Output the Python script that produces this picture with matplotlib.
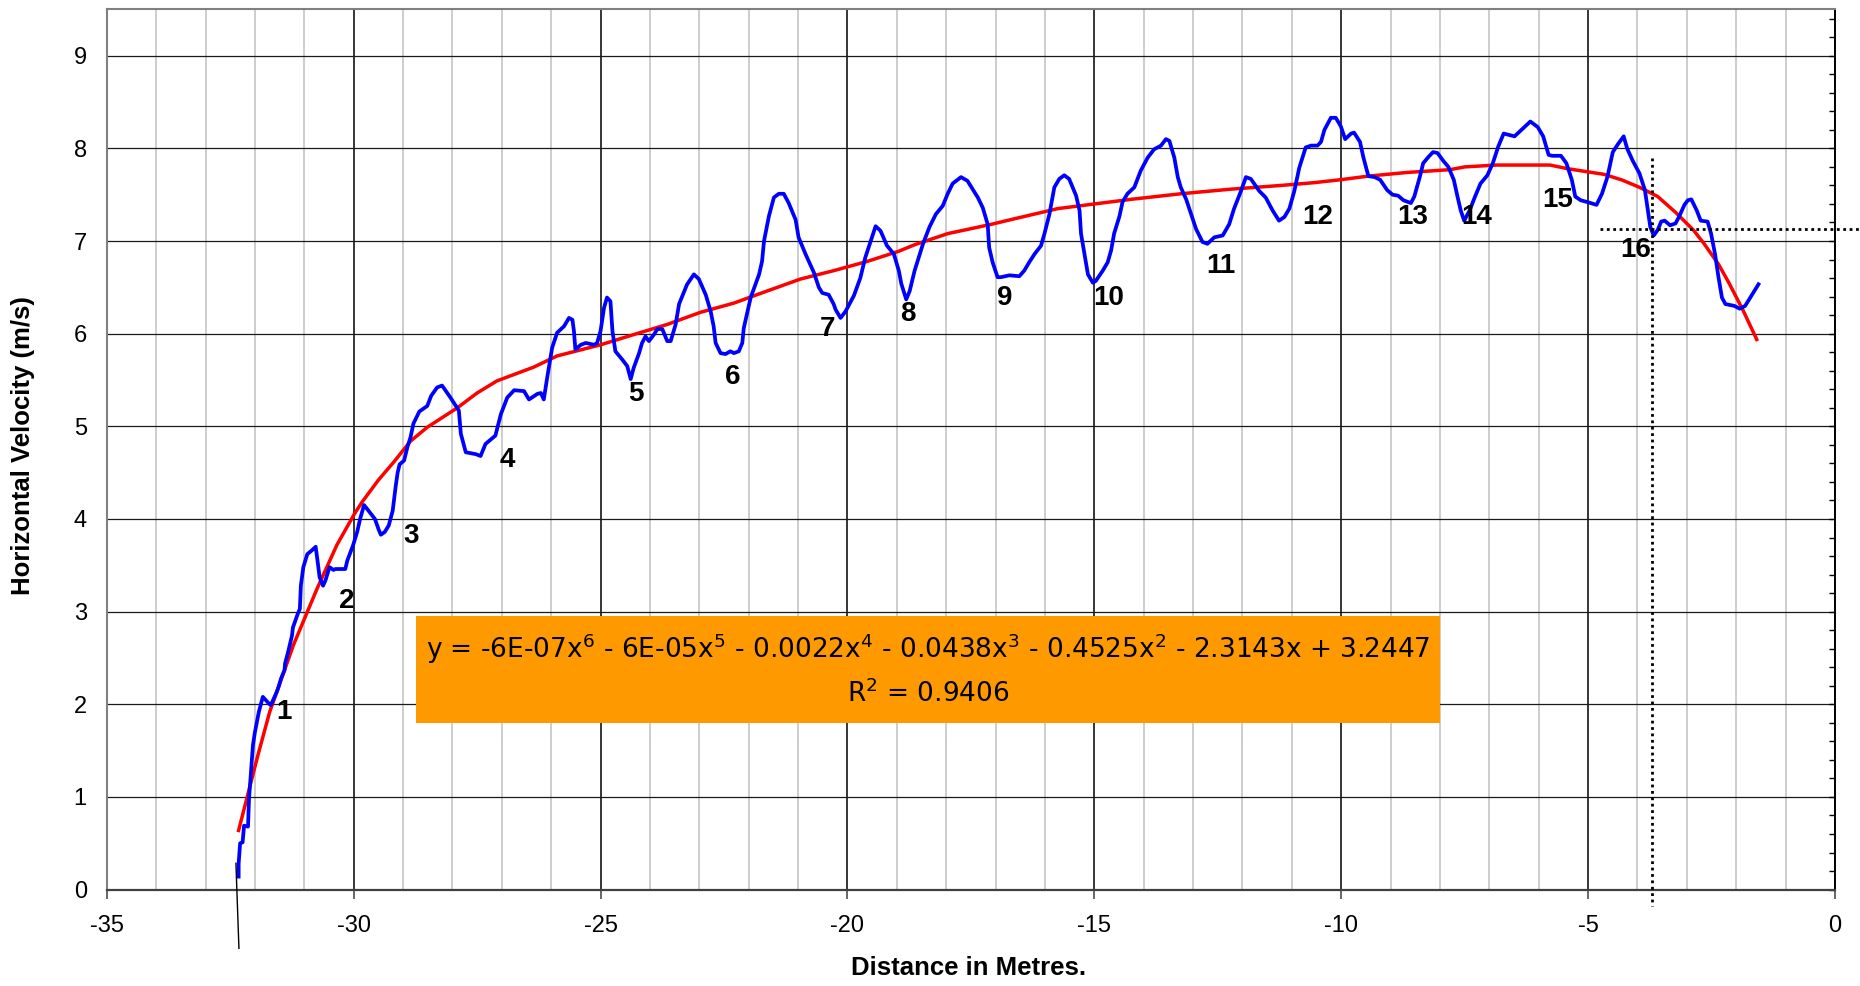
import matplotlib
matplotlib.use("Agg")
import matplotlib.pyplot as plt
from matplotlib.ticker import MultipleLocator
from matplotlib.patches import Rectangle

plt.rcParams['font.family'] = ['Liberation Sans', 'DejaVu Sans']
plt.rcParams['mathtext.default'] = 'regular'
plt.rcParams['axes.unicode_minus'] = False

# ---------------- data ----------------
blue_x = [-32.33, -32.33, -32.30, -32.25, -32.22, -32.14, -32.12, -32.08, -32.04, -32.00,
          -31.96, -31.92, -31.84, -31.72, -31.68, -31.56, -31.52, -31.47, -31.40, -31.39,
          -31.33, -31.25, -31.23, -31.13, -31.09, -31.07, -31.02, -30.94, -30.85, -30.77,
          -30.73, -30.69, -30.62, -30.57, -30.49, -30.41, -30.37, -30.17, -30.13, -30.01,
          -29.93, -29.87, -29.79, -29.73, -29.57, -29.49, -29.45, -29.37, -29.29, -29.21,
          -29.15, -29.11, -29.07, -28.98, -28.91, -28.85, -28.79, -28.67, -28.51, -28.43,
          -28.31, -28.21, -28.04, -27.87, -27.83, -27.73, -27.53, -27.43, -27.33, -27.13,
          -27.02, -26.89, -26.75, -26.55, -26.45, -26.28, -26.21, -26.15, -26.08, -25.98,
          -25.88, -25.74, -25.64, -25.57, -25.54, -25.51, -25.40, -25.30, -25.13, -25.07,
          -25.00, -24.93, -24.87, -24.80, -24.76, -24.70, -24.56, -24.46, -24.39, -24.33,
          -24.22, -24.16, -24.09, -24.02, -23.92, -23.85, -23.75, -23.65, -23.58, -23.48,
          -23.41, -23.25, -23.11, -23.01, -22.87, -22.77, -22.71, -22.67, -22.57, -22.47,
          -22.37, -22.30, -22.20, -22.13, -22.10, -21.96, -21.79, -21.73, -21.69, -21.59,
          -21.49, -21.39, -21.29, -21.19, -21.05, -20.99, -20.85, -20.68, -20.58, -20.51,
          -20.38, -20.28, -20.24, -20.14, -20.04, -19.87, -19.74, -19.64, -19.53, -19.43,
          -19.33, -19.20, -19.06, -18.96, -18.91, -18.81, -18.74, -18.64, -18.47, -18.34,
          -18.21, -18.07, -17.97, -17.87, -17.70, -17.57, -17.36, -17.26, -17.16, -17.13,
          -17.06, -16.96, -16.89, -16.72, -16.52, -16.42, -16.32, -16.21, -16.08, -16.01,
          -15.91, -15.81, -15.71, -15.61, -15.51, -15.37, -15.30, -15.27, -15.20, -15.13,
          -15.03, -14.97, -14.83, -14.73, -14.66, -14.60, -14.49, -14.43, -14.33, -14.19,
          -14.06, -13.92, -13.79, -13.65, -13.55, -13.48, -13.38, -13.31, -13.25, -13.14,
          -13.04, -12.94, -12.81, -12.71, -12.57, -12.40, -12.27, -12.17, -12.03, -11.93,
          -11.83, -11.66, -11.53, -11.39, -11.26, -11.15, -11.05, -10.95, -10.85, -10.72,
          -10.61, -10.48, -10.41, -10.34, -10.21, -10.11, -10.01, -9.92, -9.80, -9.74,
          -9.62, -9.55, -9.45, -9.32, -9.21, -9.07, -8.96, -8.85, -8.74, -8.59,
          -8.52, -8.41, -8.34, -8.23, -8.14, -8.05, -7.94, -7.83, -7.72, -7.65,
          -7.58, -7.51, -7.40, -7.29, -7.18, -7.04, -6.93, -6.82, -6.71, -6.49,
          -6.35, -6.17, -6.02, -5.91, -5.80, -5.73, -5.55, -5.44, -5.33, -5.26,
          -5.15, -5.01, -4.83, -4.72, -4.61, -4.50, -4.39, -4.28, -4.21, -4.10,
          -3.96, -3.85, -3.78, -3.74, -3.67, -3.59, -3.52, -3.45, -3.34, -3.23,
          -3.16, -3.05, -2.98, -2.91, -2.80, -2.72, -2.58, -2.51, -2.43, -2.36,
          -2.29, -2.22, -2.04, -1.93, -1.82, -1.67, -1.53]
blue_y = [0.12, 0.28, 0.50, 0.51, 0.69, 0.68, 0.98, 1.27, 1.56, 1.70,
          1.81, 1.92, 2.08, 2.01, 1.99, 2.13, 2.19, 2.28, 2.37, 2.44,
          2.56, 2.74, 2.83, 2.98, 3.03, 3.28, 3.48, 3.62, 3.66, 3.70,
          3.54, 3.37, 3.28, 3.34, 3.48, 3.45, 3.46, 3.46, 3.55, 3.72,
          3.86, 4.00, 4.15, 4.11, 4.00, 3.88, 3.83, 3.86, 3.93, 4.09,
          4.35, 4.50, 4.59, 4.63, 4.78, 4.88, 5.03, 5.16, 5.22, 5.33,
          5.42, 5.44, 5.31, 5.17, 4.92, 4.72, 4.70, 4.68, 4.81, 4.90,
          5.13, 5.31, 5.39, 5.38, 5.29, 5.35, 5.36, 5.29, 5.53, 5.85,
          6.01, 6.08, 6.17, 6.15, 6.03, 5.83, 5.88, 5.90, 5.88, 5.90,
          6.03, 6.28, 6.39, 6.35, 6.03, 5.81, 5.72, 5.65, 5.51, 5.63,
          5.79, 5.90, 5.97, 5.92, 5.99, 6.05, 6.05, 5.92, 5.92, 6.10,
          6.32, 6.53, 6.64, 6.59, 6.42, 6.24, 6.08, 5.90, 5.79, 5.78,
          5.81, 5.79, 5.81, 5.90, 6.06, 6.39, 6.64, 6.78, 7.00, 7.27,
          7.47, 7.51, 7.51, 7.41, 7.23, 7.04, 6.86, 6.66, 6.50, 6.44,
          6.42, 6.32, 6.26, 6.17, 6.24, 6.41, 6.60, 6.82, 7.00, 7.16,
          7.11, 6.95, 6.86, 6.68, 6.54, 6.37, 6.46, 6.68, 6.97, 7.15,
          7.29, 7.38, 7.51, 7.62, 7.69, 7.65, 7.47, 7.36, 7.18, 6.93,
          6.77, 6.61, 6.61, 6.63, 6.62, 6.68, 6.77, 6.86, 6.95, 7.08,
          7.29, 7.58, 7.67, 7.71, 7.67, 7.49, 7.33, 7.08, 6.86, 6.64,
          6.55, 6.57, 6.68, 6.77, 6.90, 7.08, 7.27, 7.42, 7.51, 7.58,
          7.76, 7.90, 7.99, 8.03, 8.10, 8.08, 7.90, 7.69, 7.58, 7.45,
          7.29, 7.13, 6.99, 6.97, 7.04, 7.06, 7.18, 7.35, 7.54, 7.69,
          7.67, 7.54, 7.47, 7.33, 7.22, 7.26, 7.35, 7.54, 7.79, 8.01,
          8.03, 8.03, 8.07, 8.20, 8.33, 8.33, 8.24, 8.10, 8.16, 8.17,
          8.07, 7.90, 7.70, 7.69, 7.66, 7.55, 7.50, 7.49, 7.44, 7.41,
          7.48, 7.69, 7.84, 7.91, 7.96, 7.95, 7.87, 7.80, 7.66, 7.49,
          7.33, 7.22, 7.33, 7.48, 7.62, 7.71, 7.84, 8.02, 8.16, 8.13,
          8.20, 8.29, 8.23, 8.13, 7.93, 7.92, 7.92, 7.84, 7.66, 7.48,
          7.44, 7.42, 7.39, 7.51, 7.69, 7.96, 8.05, 8.13, 8.00, 7.87,
          7.73, 7.55, 7.30, 7.15, 7.06, 7.12, 7.21, 7.22, 7.17, 7.19,
          7.26, 7.39, 7.44, 7.45, 7.33, 7.22, 7.21, 7.08, 6.86, 6.61,
          6.39, 6.32, 6.30, 6.27, 6.30, 6.43, 6.55]

red_x = [-32.34, -31.94, -31.70, -31.22, -30.74, -30.34, -29.98, -29.82, -29.50, -29.18,
         -28.85, -28.51, -27.90, -27.50, -27.10, -26.35, -25.88, -25.00, -24.33, -23.65,
         -22.98, -22.30, -21.63, -20.95, -20.28, -19.60, -18.96, -18.64, -17.97, -17.09,
         -16.62, -15.74, -15.00, -14.26, -13.25, -12.23, -11.22, -10.55, -10.04, -9.46,
         -8.67, -7.80, -7.50, -6.86, -5.77, -5.41, -4.68, -4.32, -3.96, -3.59,
         -3.23, -2.87, -2.65, -2.36, -2.14, -1.86, -1.57]
red_y = [0.62, 1.45, 1.92, 2.64, 3.25, 3.72, 4.06, 4.19, 4.42, 4.62,
         4.84, 4.99, 5.20, 5.36, 5.49, 5.64, 5.76, 5.88, 5.99, 6.10,
         6.23, 6.33, 6.46, 6.59, 6.68, 6.78, 6.89, 6.96, 7.08, 7.18,
         7.24, 7.35, 7.40, 7.45, 7.51, 7.56, 7.60, 7.63, 7.66, 7.70,
         7.74, 7.77, 7.80, 7.82, 7.82, 7.78, 7.72, 7.66, 7.58, 7.48,
         7.31, 7.12, 6.97, 6.75, 6.54, 6.25, 5.92]

stride_labels = ['1', '2', '3', '4', '5', '6', '7', '8', '9', '10',
                 '11', '12', '13', '14', '15', '16']
label_x = [-31.42, -30.14, -28.84, -26.89, -24.28, -22.33, -20.41, -18.78, -16.82, -14.70,
           -12.44, -10.48, -8.56, -7.25, -5.62, -4.03]
label_y = [1.92, 3.12, 3.82, 4.64, 5.35, 5.53, 6.05, 6.21, 6.39, 6.39,
           6.73, 7.26, 7.26, 7.26, 7.44, 6.90]

equation_line = (r"y = -6E-07x$^{6}$ - 6E-05x$^{5}$ - 0.0022x$^{4}$ - 0.0438x$^{3}$"
                 r" - 0.4525x$^{2}$ - 2.3143x + 3.2447")
r2_line = r"R$^{2}$ = 0.9406"

# reference marks
marker_line_x = [-32.385, -32.324]
marker_line_y = [0.284, -0.634]
dotted_v_x = [-3.70, -3.70]
dotted_v_y = [7.90, -0.18]
dotted_h_x = [-4.75, 0.49]
dotted_h_y = [7.13, 7.13]

x_ticks = [-35, -30, -25, -20, -15, -10, -5, 0]
y_ticks = [0, 1, 2, 3, 4, 5, 6, 7, 8, 9]

# ---------------- figure ----------------
fig = plt.figure(figsize=(18.6, 9.86), dpi=100)
ax = fig.add_axes([0.05742, 0.09777, 0.92914, 0.89270])
ax.set_xlim(-35, 0)
ax.set_ylim(0, 9.5)

ax.set_xticks(x_ticks)
ax.set_yticks(y_ticks)
ax.xaxis.set_minor_locator(MultipleLocator(1))
ax.yaxis.set_minor_locator(MultipleLocator(0.2))
ax.set_axisbelow(True)

ax.grid(which='minor', axis='x', color='#c0c0c0', linewidth=1.1)
ax.grid(which='major', axis='x', color='black', linewidth=1.1)
ax.grid(which='major', axis='y', color='#1a1a1a', linewidth=0.9)

ax.tick_params(axis='x', which='major', direction='out', length=6.2, width=1.1,
               color='#404040', labelsize=17, pad=12, top=False)
ax.tick_params(axis='x', which='minor', length=0)
ax.tick_params(axis='y', which='both', left=False, right=True, labelleft=True,
               labelright=False, direction='in', length=4.6, width=1.0,
               color='black', labelsize=17, pad=14.4)

for side in ('left', 'top'):
    ax.spines[side].set_color('#808080')
    ax.spines[side].set_linewidth(1.5)
ax.spines['bottom'].set_color('#404040')
ax.spines['bottom'].set_linewidth(1.6)
ax.spines['right'].set_color('black')
ax.spines['right'].set_linewidth(1.4)

# trend line and data
ax.plot(red_x, red_y, color='#ff0000', linewidth=2.5, zorder=3,
        solid_joinstyle='round', solid_capstyle='butt')
ax.plot(blue_x, blue_y, color='#0000ff', linewidth=2.7, zorder=4,
        solid_joinstyle='round', solid_capstyle='butt')

# marker lines
ax.plot(marker_line_x, marker_line_y, color='black', linewidth=1.0, clip_on=False, zorder=5)
ax.plot(dotted_v_x, dotted_v_y, color='black', linewidth=2.0, linestyle=(0, (1, 1.3)),
        clip_on=False, zorder=5)
ax.plot(dotted_h_x, dotted_h_y, color='black', linewidth=2.0, linestyle=(0, (1, 1.3)),
        clip_on=False, zorder=5)

# stride numbers
for s, x, y in zip(stride_labels, label_x, label_y):
    ax.text(x, y, s, fontsize=20, fontweight='bold', ha='center', va='center', zorder=6)

# equation box
ax.add_patch(Rectangle((-28.73, 1.80), 20.73, 1.15, facecolor='#ff9900',
                       edgecolor='none', zorder=2.5))
ax.text(-18.37, 2.60, equation_line, fontsize=19, family='DejaVu Sans',
        ha='center', va='center', zorder=6)
ax.text(-18.37, 2.11, r2_line, fontsize=19, family='DejaVu Sans',
        ha='center', va='center', zorder=6)

# axis titles
fig.text(23 / 1860, 1 - 446 / 986, 'Horizontal Velocity (m/s)', rotation=90,
         fontsize=18.5, fontweight='bold', ha='center', va='center')
fig.text(969 / 1860, 1 - 975 / 986, 'Distance in Metres.', fontsize=18.5,
         fontweight='bold', ha='center', va='baseline')

fig.savefig('out.png', dpi=100)
